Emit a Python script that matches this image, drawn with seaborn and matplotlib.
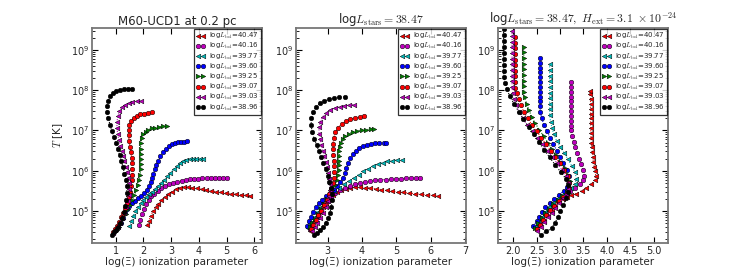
import numpy as np
import matplotlib
matplotlib.use("Agg")
import matplotlib.pyplot as plt
import seaborn as sns

# luminosity labels, marker and colour per series (classic matplotlib colours)
lbol = ["40.47", "40.16", "39.77", "39.60", "39.25", "39.07", "39.03", "38.96"]
colors = ["#ff0000", "#bf00bf", "#00bfbf", "#0000ff", "#008000", "#ff0000", "#bf00bf", "#000000"]
markers = ["<", "o", "<", "o", ">", "o", "<", "o"]

titles = ["M60-UCD1 at 0.2 pc",
          r"log$L_{\rm stars}=38.47$",
          r"log$L_{\rm stars}=38.47,\ H_{\rm ext}=3.1\ \times 10^{-24}$"]

# ---- panel 1: log(Xi) and log10(T) ----
p1_x_4047 = [2.14, 2.20, 2.27, 2.35, 2.44, 2.54, 2.65, 2.77, 2.90, 3.03, 3.17, 3.31, 3.46, 3.61, 3.77, 3.93, 4.10, 4.27, 4.44, 4.62, 4.80, 4.98, 5.16, 5.34, 5.52, 5.70, 5.84]
p1_t_4047 = [4.66, 4.76, 4.88, 5.00, 5.10, 5.18, 5.26, 5.34, 5.41, 5.48, 5.54, 5.57, 5.585, 5.585, 5.575, 5.56, 5.54, 5.52, 5.50, 5.48, 5.46, 5.445, 5.43, 5.415, 5.40, 5.39, 5.38]
p1_x_4016 = [1.84, 1.89, 1.95, 2.02, 2.10, 2.19, 2.29, 2.40, 2.52, 2.65, 2.79, 2.93, 3.08, 3.23, 3.38, 3.53, 3.68, 3.83, 3.98, 4.13, 4.28, 4.43, 4.58, 4.73, 4.88, 5.03]
p1_t_4016 = [4.64, 4.78, 4.93, 5.06, 5.18, 5.28, 5.36, 5.43, 5.50, 5.56, 5.62, 5.66, 5.70, 5.73, 5.75, 5.77, 5.785, 5.795, 5.805, 5.81, 5.815, 5.82, 5.825, 5.83, 5.83, 5.83]
p1_x_3977 = [1.50, 1.56, 1.63, 1.71, 1.80, 1.90, 2.00, 2.10, 2.21, 2.32, 2.43, 2.54, 2.65, 2.76, 2.87, 2.98, 3.09, 3.20, 3.31, 3.43, 3.55, 3.67, 3.79, 3.91, 4.03, 4.16]
p1_t_3977 = [4.62, 4.74, 4.88, 5.00, 5.10, 5.19, 5.27, 5.34, 5.41, 5.48, 5.55, 5.62, 5.70, 5.78, 5.86, 5.94, 6.03, 6.11, 6.18, 6.23, 6.26, 6.28, 6.29, 6.30, 6.30, 6.30]
p1_x_3960 = [1.20, 1.26, 1.33, 1.41, 1.50, 1.60, 1.71, 1.82, 1.93, 2.03, 2.12, 2.20, 2.26, 2.31, 2.36, 2.41, 2.47, 2.54, 2.62, 2.71, 2.81, 2.92, 3.03, 3.14, 3.25, 3.36, 3.46, 3.56]
p1_t_3960 = [4.70, 4.82, 4.94, 5.04, 5.12, 5.19, 5.25, 5.31, 5.37, 5.44, 5.52, 5.61, 5.71, 5.81, 5.92, 6.03, 6.14, 6.25, 6.36, 6.46, 6.54, 6.61, 6.66, 6.69, 6.71, 6.72, 6.72, 6.73]
p1_x_3925 = [1.05, 1.12, 1.20, 1.28, 1.36, 1.44, 1.52, 1.60, 1.68, 1.75, 1.81, 1.86, 1.89, 1.90, 1.91, 1.91, 1.90, 1.90, 1.91, 1.94, 2.00, 2.08, 2.18, 2.30, 2.43, 2.57, 2.71, 2.85]
p1_t_3925 = [4.52, 4.60, 4.70, 4.80, 4.92, 5.04, 5.16, 5.27, 5.39, 5.51, 5.64, 5.77, 5.90, 6.03, 6.16, 6.29, 6.42, 6.55, 6.68, 6.80, 6.90, 6.97, 7.02, 7.05, 7.07, 7.09, 7.10, 7.11]
p1_x_3907 = [0.90, 0.97, 1.05, 1.13, 1.21, 1.28, 1.35, 1.41, 1.47, 1.52, 1.56, 1.59, 1.61, 1.61, 1.60, 1.58, 1.55, 1.52, 1.49, 1.47, 1.47, 1.50, 1.56, 1.65, 1.76, 1.89, 2.03, 2.17, 2.31]
p1_t_3907 = [4.48, 4.55, 4.63, 4.73, 4.84, 4.96, 5.08, 5.21, 5.34, 5.48, 5.62, 5.76, 5.90, 6.04, 6.18, 6.32, 6.46, 6.60, 6.74, 6.88, 7.02, 7.14, 7.24, 7.31, 7.36, 7.40, 7.42, 7.44, 7.45]
p1_x_3903 = [0.92, 0.99, 1.07, 1.15, 1.23, 1.31, 1.38, 1.44, 1.48, 1.50, 1.49, 1.46, 1.42, 1.37, 1.32, 1.27, 1.22, 1.17, 1.12, 1.08, 1.05, 1.05, 1.08, 1.14, 1.23, 1.34, 1.47, 1.61, 1.76, 1.92]
p1_t_3903 = [4.45, 4.52, 4.60, 4.70, 4.82, 4.95, 5.09, 5.24, 5.39, 5.54, 5.69, 5.83, 5.97, 6.10, 6.23, 6.36, 6.49, 6.62, 6.76, 6.90, 7.05, 7.20, 7.35, 7.48, 7.57, 7.63, 7.67, 7.70, 7.72, 7.74]
p1_x_3896 = [0.86, 0.93, 1.01, 1.09, 1.17, 1.24, 1.30, 1.35, 1.39, 1.41, 1.40, 1.37, 1.32, 1.27, 1.21, 1.15, 1.08, 1.01, 0.94, 0.87, 0.80, 0.74, 0.70, 0.69, 0.73, 0.80, 0.90, 1.02, 1.16, 1.31, 1.46, 1.61]
p1_t_3896 = [4.41, 4.47, 4.53, 4.61, 4.71, 4.83, 4.97, 5.12, 5.28, 5.45, 5.62, 5.78, 5.93, 6.08, 6.23, 6.38, 6.53, 6.68, 6.83, 6.98, 7.14, 7.30, 7.46, 7.61, 7.74, 7.85, 7.93, 7.98, 8.01, 8.02, 8.03, 8.04]

# ---- panel 2 ----
p2_x_4047 = [2.49, 2.55, 2.62, 2.70, 2.78, 2.87, 2.96, 3.06, 3.16, 3.28, 3.40, 3.53, 3.66, 3.80, 3.94, 4.09, 4.24, 4.40, 4.56, 4.72, 4.88, 5.04, 5.21, 5.38, 5.55, 5.72, 5.89, 6.06, 6.22]
p2_t_4047 = [4.50, 4.62, 4.74, 4.86, 4.98, 5.09, 5.20, 5.30, 5.39, 5.46, 5.51, 5.55, 5.57, 5.585, 5.59, 5.58, 5.57, 5.55, 5.53, 5.51, 5.49, 5.47, 5.46, 5.44, 5.43, 5.41, 5.40, 5.39, 5.38]
p2_x_4016 = [2.50, 2.56, 2.63, 2.71, 2.80, 2.90, 3.00, 3.11, 3.23, 3.36, 3.50, 3.64, 3.79, 3.94, 4.09, 4.24, 4.39, 4.54, 4.69, 4.84, 4.99, 5.14, 5.29, 5.44, 5.57, 5.68]
p2_t_4016 = [4.55, 4.67, 4.79, 4.91, 5.03, 5.14, 5.25, 5.35, 5.44, 5.51, 5.57, 5.62, 5.66, 5.69, 5.72, 5.74, 5.76, 5.77, 5.78, 5.79, 5.80, 5.805, 5.81, 5.815, 5.82, 5.82]
p2_x_3977 = [2.44, 2.50, 2.57, 2.65, 2.74, 2.84, 2.95, 3.07, 3.20, 3.34, 3.48, 3.62, 3.76, 3.90, 4.04, 4.18, 4.32, 4.46, 4.60, 4.74, 4.88, 5.02, 5.16]
p2_t_3977 = [4.58, 4.70, 4.83, 4.96, 5.08, 5.20, 5.31, 5.41, 5.50, 5.58, 5.66, 5.74, 5.82, 5.90, 5.98, 6.05, 6.11, 6.16, 6.20, 6.23, 6.25, 6.26, 6.27]
p2_x_3960 = [2.40, 2.45, 2.51, 2.58, 2.66, 2.75, 2.85, 2.96, 3.07, 3.18, 3.28, 3.37, 3.44, 3.50, 3.55, 3.60, 3.66, 3.73, 3.82, 3.92, 4.03, 4.15, 4.27, 4.39, 4.51, 4.63, 4.70]
p2_t_3960 = [4.62, 4.74, 4.86, 4.98, 5.09, 5.19, 5.28, 5.37, 5.45, 5.53, 5.62, 5.72, 5.83, 5.95, 6.07, 6.19, 6.31, 6.41, 6.50, 6.57, 6.62, 6.65, 6.67, 6.68, 6.69, 6.70, 6.70]
p2_x_3925 = [2.48, 2.55, 2.63, 2.71, 2.80, 2.89, 2.98, 3.06, 3.14, 3.21, 3.27, 3.31, 3.33, 3.34, 3.34, 3.34, 3.34, 3.35, 3.38, 3.44, 3.52, 3.62, 3.74, 3.87, 4.00, 4.13, 4.25, 4.36]
p2_t_3925 = [4.60, 4.70, 4.81, 4.93, 5.05, 5.17, 5.29, 5.41, 5.53, 5.65, 5.77, 5.89, 6.01, 6.13, 6.25, 6.37, 6.49, 6.60, 6.70, 6.79, 6.86, 6.92, 6.96, 6.99, 7.01, 7.02, 7.03, 7.04]
p2_x_3907 = [2.52, 2.58, 2.65, 2.73, 2.81, 2.89, 2.97, 3.04, 3.10, 3.15, 3.18, 3.19, 3.19, 3.18, 3.17, 3.16, 3.16, 3.18, 3.23, 3.31, 3.41, 3.53, 3.66, 3.80, 3.94, 4.07]
p2_t_3907 = [4.56, 4.66, 4.77, 4.89, 5.01, 5.14, 5.27, 5.41, 5.55, 5.69, 5.83, 5.97, 6.11, 6.25, 6.39, 6.53, 6.67, 6.81, 6.95, 7.07, 7.16, 7.23, 7.28, 7.31, 7.33, 7.35]
p2_x_3903 = [2.55, 2.62, 2.70, 2.78, 2.86, 2.94, 3.00, 3.05, 3.07, 3.07, 3.05, 3.02, 2.98, 2.94, 2.90, 2.86, 2.82, 2.78, 2.75, 2.75, 2.79, 2.86, 2.96, 3.08, 3.21, 3.35, 3.49, 3.63, 3.77]
p2_t_3903 = [4.50, 4.60, 4.71, 4.83, 4.96, 5.10, 5.24, 5.38, 5.52, 5.66, 5.80, 5.94, 6.08, 6.22, 6.36, 6.50, 6.64, 6.78, 6.92, 7.08, 7.22, 7.34, 7.44, 7.51, 7.56, 7.59, 7.61, 7.63, 7.64]
p2_x_3896 = [2.60, 2.68, 2.77, 2.86, 2.94, 3.01, 3.07, 3.11, 3.13, 3.12, 3.09, 3.05, 3.00, 2.94, 2.88, 2.82, 2.75, 2.68, 2.61, 2.55, 2.52, 2.53, 2.58, 2.66, 2.77, 2.90, 3.04, 3.19, 3.34, 3.50]
p2_t_3896 = [4.41, 4.46, 4.52, 4.60, 4.70, 4.82, 4.96, 5.11, 5.27, 5.43, 5.58, 5.73, 5.88, 6.03, 6.18, 6.33, 6.48, 6.63, 6.79, 6.96, 7.13, 7.30, 7.45, 7.58, 7.67, 7.73, 7.77, 7.80, 7.82, 7.83]

# ---- panel 3 ----
p3_x_4047 = [2.50, 2.58, 2.66, 2.74, 2.82, 2.90, 2.98, 3.06, 3.14, 3.24, 3.35, 3.46, 3.56, 3.67, 3.74, 3.76, 3.75, 3.73, 3.71, 3.70, 3.69, 3.68, 3.67, 3.66, 3.66, 3.65, 3.65, 3.65, 3.65, 3.65, 3.65, 3.65, 3.64, 3.64]
p3_t_4047 = [4.56, 4.66, 4.76, 4.88, 5.00, 5.12, 5.22, 5.30, 5.35, 5.39, 5.43, 5.50, 5.58, 5.67, 5.77, 5.88, 5.99, 6.10, 6.22, 6.34, 6.46, 6.58, 6.70, 6.82, 6.94, 7.06, 7.18, 7.30, 7.42, 7.54, 7.66, 7.78, 7.90, 7.98]
p3_x_4016 = [2.48, 2.55, 2.62, 2.70, 2.78, 2.86, 2.95, 3.04, 3.13, 3.22, 3.33, 3.43, 3.50, 3.52, 3.49, 3.45, 3.41, 3.37, 3.33, 3.29, 3.26, 3.24, 3.23, 3.23, 3.23, 3.23, 3.23, 3.23, 3.23, 3.23, 3.23, 3.23]
p3_t_4016 = [4.58, 4.70, 4.82, 4.94, 5.06, 5.16, 5.26, 5.34, 5.42, 5.50, 5.58, 5.66, 5.76, 5.88, 6.02, 6.16, 6.30, 6.44, 6.58, 6.72, 6.86, 7.00, 7.12, 7.24, 7.36, 7.48, 7.60, 7.72, 7.84, 7.96, 8.08, 8.20]
p3_x_3977 = [2.46, 2.54, 2.61, 2.68, 2.76, 2.85, 2.94, 3.04, 3.14, 3.24, 3.31, 3.35, 3.32, 3.25, 3.17, 3.09, 3.01, 2.93, 2.87, 2.83, 2.80, 2.78, 2.78, 2.78, 2.78, 2.78, 2.78, 2.78, 2.78, 2.78, 2.78]
p3_t_3977 = [4.60, 4.72, 4.85, 4.98, 5.10, 5.20, 5.30, 5.40, 5.48, 5.56, 5.66, 5.80, 5.96, 6.12, 6.28, 6.44, 6.58, 6.74, 6.90, 7.06, 7.22, 7.38, 7.52, 7.66, 7.80, 7.94, 8.08, 8.22, 8.36, 8.50, 8.64]
p3_x_3960 = [2.43, 2.50, 2.56, 2.62, 2.69, 2.78, 2.88, 2.98, 3.08, 3.15, 3.19, 3.19, 3.14, 3.07, 3.00, 2.93, 2.86, 2.79, 2.72, 2.66, 2.61, 2.58, 2.58, 2.58, 2.58, 2.58, 2.58, 2.58, 2.58, 2.58, 2.58, 2.58, 2.58]
p3_t_3960 = [4.62, 4.74, 4.86, 4.98, 5.10, 5.20, 5.30, 5.40, 5.50, 5.60, 5.72, 5.86, 6.02, 6.18, 6.34, 6.50, 6.66, 6.82, 6.98, 7.14, 7.30, 7.46, 7.60, 7.72, 7.84, 7.96, 8.08, 8.20, 8.32, 8.44, 8.56, 8.68, 8.80]
p3_x_3925 = [2.47, 2.54, 2.61, 2.68, 2.76, 2.85, 2.95, 3.05, 3.14, 3.20, 3.22, 3.18, 3.10, 3.01, 2.92, 2.83, 2.74, 2.65, 2.56, 2.47, 2.40, 2.34, 2.29, 2.25, 2.23, 2.23, 2.23, 2.23, 2.23, 2.23, 2.23, 2.23, 2.23]
p3_t_3925 = [4.58, 4.70, 4.82, 4.94, 5.06, 5.17, 5.28, 5.38, 5.48, 5.60, 5.74, 5.90, 6.06, 6.22, 6.38, 6.54, 6.70, 6.86, 7.02, 7.18, 7.34, 7.50, 7.66, 7.82, 7.96, 8.10, 8.24, 8.38, 8.52, 8.66, 8.80, 8.94, 9.08]
p3_x_3907 = [2.50, 2.57, 2.64, 2.71, 2.79, 2.88, 2.97, 3.06, 3.14, 3.19, 3.20, 3.16, 3.08, 2.99, 2.90, 2.80, 2.70, 2.60, 2.50, 2.40, 2.31, 2.23, 2.17, 2.12, 2.08, 2.05, 2.04, 2.04, 2.04, 2.04, 2.04, 2.04, 2.04, 2.04, 2.04]
p3_t_3907 = [4.55, 4.66, 4.78, 4.90, 5.02, 5.13, 5.24, 5.34, 5.44, 5.56, 5.70, 5.86, 6.02, 6.18, 6.34, 6.50, 6.66, 6.82, 6.98, 7.14, 7.30, 7.46, 7.62, 7.78, 7.92, 8.06, 8.20, 8.34, 8.48, 8.62, 8.76, 8.90, 9.04, 9.18, 9.32]
p3_x_3903 = [2.52, 2.59, 2.66, 2.74, 2.82, 2.90, 2.98, 3.06, 3.13, 3.17, 3.17, 3.12, 3.04, 2.94, 2.84, 2.73, 2.62, 2.51, 2.40, 2.30, 2.21, 2.13, 2.07, 2.02, 1.99, 1.98, 1.98, 1.98, 1.98, 1.98, 1.98, 1.98, 1.98, 1.98, 1.98, 1.98]
p3_t_3903 = [4.50, 4.60, 4.72, 4.84, 4.96, 5.08, 5.20, 5.31, 5.42, 5.55, 5.70, 5.86, 6.02, 6.18, 6.34, 6.50, 6.66, 6.82, 6.98, 7.14, 7.30, 7.46, 7.62, 7.78, 7.94, 8.08, 8.22, 8.36, 8.50, 8.64, 8.78, 8.92, 9.06, 9.20, 9.34, 9.46]
p3_x_3896 = [2.60, 2.71, 2.82, 2.89, 2.96, 3.01, 3.07, 3.13, 3.17, 3.17, 3.12, 3.02, 2.90, 2.78, 2.66, 2.55, 2.44, 2.33, 2.22, 2.12, 2.02, 1.93, 1.87, 1.83, 1.81, 1.80, 1.80, 1.80, 1.80, 1.80, 1.80, 1.80, 1.80]
p3_t_3896 = [4.41, 4.49, 4.57, 4.70, 4.85, 4.99, 5.15, 5.31, 5.47, 5.64, 5.80, 5.96, 6.14, 6.33, 6.52, 6.71, 6.90, 7.09, 7.28, 7.47, 7.66, 7.85, 8.02, 8.17, 8.32, 8.47, 8.62, 8.77, 8.92, 9.07, 9.22, 9.37, 9.52]

panel_x = [
    [p1_x_4047, p1_x_4016, p1_x_3977, p1_x_3960, p1_x_3925, p1_x_3907, p1_x_3903, p1_x_3896],
    [p2_x_4047, p2_x_4016, p2_x_3977, p2_x_3960, p2_x_3925, p2_x_3907, p2_x_3903, p2_x_3896],
    [p3_x_4047, p3_x_4016, p3_x_3977, p3_x_3960, p3_x_3925, p3_x_3907, p3_x_3903, p3_x_3896],
]
panel_t = [
    [p1_t_4047, p1_t_4016, p1_t_3977, p1_t_3960, p1_t_3925, p1_t_3907, p1_t_3903, p1_t_3896],
    [p2_t_4047, p2_t_4016, p2_t_3977, p2_t_3960, p2_t_3925, p2_t_3907, p2_t_3903, p2_t_3896],
    [p3_t_4047, p3_t_4016, p3_t_3977, p3_t_3960, p3_t_3925, p3_t_3907, p3_t_3903, p3_t_3896],
]

xlims = [(0.15, 6.28), (2.08, 7.03), (1.68, 5.30)]
xticks = [[1, 2, 3, 4, 5, 6], [3, 4, 5, 6, 7], [2.0, 2.5, 3.0, 3.5, 4.0, 4.5, 5.0]]
xticklabels = [["1", "2", "3", "4", "5", "6"], ["3", "4", "5", "6", "7"],
               ["2.0", "2.5", "3.0", "3.5", "4.0", "4.5", "5.0"]]

sns.set_style("ticks")
plt.rcParams.update({
    "font.family": ["DejaVu Sans"],
    "mathtext.fontset": "cm",
    "mathtext.default": "it",
    "xtick.direction": "in",
    "ytick.direction": "in",
    "xtick.top": True,
    "ytick.right": True,
    "xtick.major.size": 4,
    "ytick.major.size": 4,
    "ytick.minor.size": 2,
    "xtick.labelsize": 7,
    "ytick.labelsize": 7,
})

fig = plt.figure(figsize=(7.43, 2.70), dpi=100)
lefts = [92 / 743, 296 / 743, 498 / 743]

for p in range(3):
    ax = fig.add_axes([lefts[p], 0.10, 170 / 743, 0.7963])
    for i in range(8):
        T = 10 ** np.array(panel_t[p][i])
        sns.lineplot(x=panel_x[p][i], y=T, ax=ax, sort=False, estimator=None,
                     errorbar=None, color=colors[i], marker=markers[i], linestyle=":",
                     linewidth=0.8, markersize=3.3, markeredgecolor="k",
                     markeredgewidth=0.35, label=r"log$L_{\rm bol}$=" + lbol[i])
    ax.set_yscale("log")
    ax.set_ylim(1.6e4, 3.5e9)
    ax.set_xlim(*xlims[p])
    ax.set_xticks(xticks[p])
    ax.set_xticklabels(xticklabels[p])
    ax.set_xlabel("log(Ξ) ionization parameter", fontsize=7.5, labelpad=1)
    ax.set_ylabel(r"$T$ [K]" if p == 0 else "", fontsize=7.5)
    ax.set_title(titles[p], fontsize=8.5, pad=2)
    ax.tick_params(axis="both", which="both", pad=2, color="k")
    for s in ax.spines.values():
        s.set_color("#777777")
        s.set_linewidth(1.3)
    leg = ax.legend(loc="upper right", numpoints=2, fontsize=5.0, labelspacing=0.0,
                    handlelength=1.3, handletextpad=0.6, borderpad=0.3,
                    borderaxespad=0.15, frameon=True, fancybox=False)
    leg.get_frame().set_edgecolor("k")
    leg.get_frame().set_linewidth(0.9)

fig.savefig("out.png", dpi=100)
